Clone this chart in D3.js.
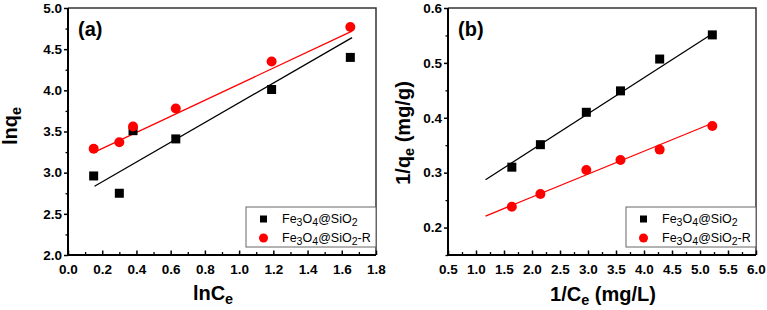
<!DOCTYPE html>
<html>
<head>
<meta charset="utf-8">
<script src="https://cdn.jsdelivr.net/npm/d3@7"></script>
<style>
body { margin: 0; background: #fff; }
svg text { font-family: "Liberation Sans", Arial, sans-serif; font-weight: bold; }
</style>
</head>
<body>
<svg id="chart" width="767" height="310"></svg>
<script>
// panel (a): Freundlich
var lnCe = [0.15, 0.30, 0.38, 0.63, 1.19, 1.65];
var lnqeSiO2 = [2.96, 2.75, 3.51, 3.41, 4.01, 4.40];
var lnqeSiO2R = [3.29, 3.37, 3.56, 3.78, 4.35, 4.77];
var fitAx = [0.155, 1.66];
var fitASiO2 = [2.835, 4.64];
var fitASiO2R = [3.25, 4.72];
var ticksAx = [0.0, 0.2, 0.4, 0.6, 0.8, 1.0, 1.2, 1.4, 1.6, 1.8];
var ticksAy = [2.0, 2.5, 3.0, 3.5, 4.0, 4.5, 5.0];

// panel (b): Langmuir
var invCe = [1.64, 2.15, 2.97, 3.58, 4.28, 5.22];
var invqeSiO2 = [0.310, 0.351, 0.410, 0.449, 0.507, 0.551];
var invqeSiO2R = [0.238, 0.261, 0.305, 0.323, 0.342, 0.385];
var fitBx = [1.17, 5.22];
var fitBSiO2 = [0.287, 0.553];
var fitBSiO2R = [0.221, 0.390];
var ticksBx = [0.5, 1.0, 1.5, 2.0, 2.5, 3.0, 3.5, 4.0, 4.5, 5.0, 5.5, 6.0];
var ticksBy = [0.2, 0.3, 0.4, 0.5, 0.6];

var svg = d3.select("#chart");
var plotTop = 8, plotBottom = 255;

function zip(xs, ys){
	return xs.map(function(x, i){ return {x: x, y: ys[i]}; });
}

function midpoints(t){
	var m = [];
	for(var i = 0; i < t.length - 1; i++) m.push((t[i] + t[i+1]) / 2);
	return m;
}

// parts: list of [text, "sub"|""]
function addSubText(sel, parts, shift, subSize){
	var down = false;
	parts.forEach(function(p){
		var t = sel.append("tspan").text(p[0]);
		if(p[1] == "sub"){
			t.attr("font-size", subSize || "0.72em").attr("dy", shift);
			down = true;
		} else if(down){
			t.attr("dy", -shift);
			down = false;
		}
	});
}

function drawPanel(cfg){
	var g = svg.append("g");
	var x = d3.scaleLinear().domain(cfg.xDomain).range([cfg.left, cfg.right]);
	var y = d3.scaleLinear().domain(cfg.yDomain).range([plotBottom, plotTop]);

	// frame top/right
	g.append("path")
		.attr("d", "M" + cfg.left + "," + plotTop + "H" + cfg.right + "V" + plotBottom)
		.attr("fill", "none").attr("stroke", "#333").attr("stroke-width", 1.5);

	// minor ticks
	var minorX = midpoints(cfg.ticksX);
	var minorY = midpoints(cfg.ticksY).concat(cfg.extraMinorY || []);

	g.append("g")
		.attr("transform", "translate(0," + plotBottom + ")")
		.call(d3.axisBottom(x).tickValues(minorX).tickSize(-3).tickFormat(""))
		.call(function(a){ a.select(".domain").remove(); a.selectAll("line").attr("stroke-width", 1.3); });
	g.append("g")
		.attr("transform", "translate(" + cfg.left + ",0)")
		.call(d3.axisLeft(y).tickValues(minorY).tickSize(2.5).tickFormat(""))
		.call(function(a){ a.select(".domain").remove(); a.selectAll("line").attr("stroke-width", 1.3); });

	var xAxis = g.append("g")
		.attr("transform", "translate(0," + plotBottom + ")")
		.call(d3.axisBottom(x).tickValues(cfg.ticksX).tickSize(-4.5).tickPadding(9).tickFormat(d3.format(".1f")));
	xAxis.select(".domain").attr("d", "M" + (cfg.left - 1) + ",0H" + cfg.right).attr("stroke-width", 2);
	xAxis.selectAll("line").attr("stroke-width", 1.5);
	xAxis.selectAll("text").attr("font-size", 13.5).attr("fill", "#000");

	var yAxis = g.append("g")
		.attr("transform", "translate(" + cfg.left + ",0)")
		.call(d3.axisLeft(y).tickValues(cfg.ticksY).tickSize(4).tickPadding(2).tickFormat(d3.format(".1f")));
	yAxis.select(".domain").attr("d", "M0," + plotTop + "V" + (plotBottom + 1)).attr("stroke-width", 2);
	yAxis.selectAll("line").attr("stroke-width", 1.5);
	yAxis.selectAll("text").attr("font-size", 13.5).attr("fill", "#000");

	var line = d3.line().x(function(d){ return x(d.x); }).y(function(d){ return y(d.y); });

	cfg.series.forEach(function(s){
		g.append("path")
			.datum(zip(cfg.fitX, s.fit))
			.attr("d", line)
			.attr("fill", "none")
			.attr("stroke", s.color)
			.attr("stroke-width", 1.3);
	});
	cfg.series.forEach(function(s){
		var pts = g.append("g").selectAll("x").data(zip(cfg.xs, s.ys)).enter();
		if(s.shape == "square"){
			pts.append("rect")
				.attr("x", function(d){ return x(d.x) - 4.5; })
				.attr("y", function(d){ return y(d.y) - 4.5; })
				.attr("width", 9).attr("height", 9)
				.attr("fill", s.color);
		} else {
			pts.append("circle")
				.attr("cx", function(d){ return x(d.x); })
				.attr("cy", function(d){ return y(d.y); })
				.attr("r", 5)
				.attr("fill", s.color);
		}
	});

	// panel tag
	g.append("text").attr("x", cfg.left + 10).attr("y", 36)
		.attr("font-size", 20).text(cfg.tag);

	// legend
	var lx = cfg.right - 130, ly = 207;
	var leg = g.append("g");
	leg.append("rect").attr("x", lx).attr("y", ly).attr("width", 130).attr("height", 40)
		.attr("fill", "#fff").attr("stroke", "#666").attr("stroke-width", 1);
	cfg.series.forEach(function(s, i){
		var cy = ly + 12 + i * 19;
		if(s.shape == "square"){
			leg.append("rect").attr("x", lx + 14).attr("y", cy - 3.5).attr("width", 7).attr("height", 7).attr("fill", s.color);
		} else {
			leg.append("circle").attr("cx", lx + 17.5).attr("cy", cy).attr("r", 4.5).attr("fill", s.color);
		}
		var t = leg.append("text").attr("x", lx + 36).attr("y", cy + 4)
			.attr("font-size", 12.5).style("font-weight", "normal");
		var parts = [["Fe"], ["3", "sub"], ["O"], ["4", "sub"], ["@SiO"], ["2", "sub"]];
		if(s.suffix) parts.push([s.suffix]);
		addSubText(t, parts, 3, "0.85em");
	});

	// axis titles
	var xt = g.append("text").attr("x", cfg.xTitle[0]).attr("y", cfg.xTitle[1])
		.attr("text-anchor", "middle").attr("font-size", 20);
	addSubText(xt, cfg.xTitleParts, 4);
	var yt = g.append("text")
		.attr("transform", "translate(" + cfg.yTitle[0] + "," + cfg.yTitle[1] + ") rotate(-90)")
		.attr("text-anchor", "middle").attr("font-size", 20);
	addSubText(yt, cfg.yTitleParts, 4);
}

drawPanel({
	left: 68, right: 376,
	xDomain: [0, 1.8], yDomain: [2.0, 5.0],
	ticksX: ticksAx, ticksY: ticksAy,
	xs: lnCe, fitX: fitAx,
	series: [
		{ys: lnqeSiO2, fit: fitASiO2, color: "#000", shape: "square"},
		{ys: lnqeSiO2R, fit: fitASiO2R, color: "#ff0000", shape: "circle", suffix: "-R"}
	],
	tag: "(a)",
	xTitle: [213, 300], xTitleParts: [["lnC"], ["e", "sub"]],
	yTitle: [17, 126], yTitleParts: [["lnq"], ["e", "sub"]]
});

drawPanel({
	left: 448, right: 756,
	xDomain: [0.5, 6.0], yDomain: [0.15, 0.6],
	ticksX: ticksBx, ticksY: ticksBy, extraMinorY: [0.15],
	xs: invCe, fitX: fitBx,
	series: [
		{ys: invqeSiO2, fit: fitBSiO2, color: "#000", shape: "square"},
		{ys: invqeSiO2R, fit: fitBSiO2R, color: "#ff0000", shape: "circle", suffix: "-R"}
	],
	tag: "(b)",
	xTitle: [603, 301], xTitleParts: [["1/C"], ["e", "sub"], [" (mg/L)"]],
	yTitle: [410, 133], yTitleParts: [["1/q"], ["e", "sub"], [" (mg/g)"]]
});
</script>
</body>
</html>
